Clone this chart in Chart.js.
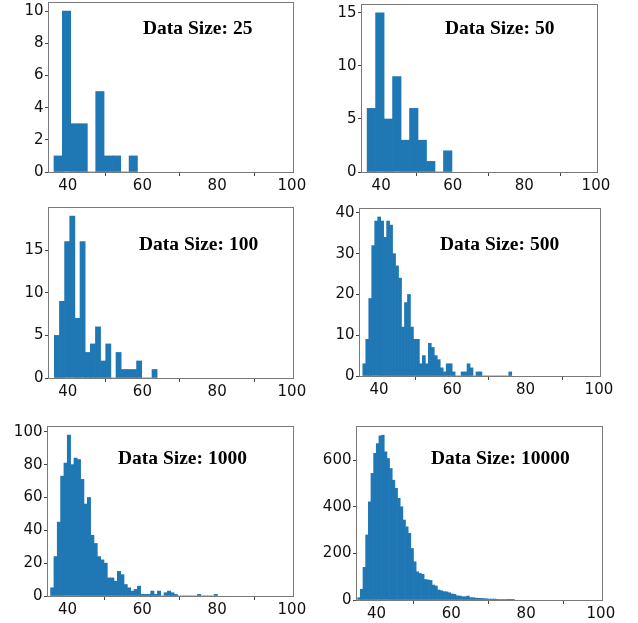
<!DOCTYPE html>
<html><head><meta charset="utf-8">
<script src="https://cdn.jsdelivr.net/npm/chart.js"></script>
<style>
html,body{margin:0;padding:0;background:#fff;width:638px;height:623px;overflow:hidden;position:relative}
canvas{position:absolute}
</style></head><body>
<script>
// ---------- DATA ----------
const titles = ["Data Size: 25", "Data Size: 50", "Data Size: 100", "Data Size: 500", "Data Size: 1000", "Data Size: 10000"];
const xTicks = [40, 60, 80, 100];

const binStart25 = 36.33, binWidth25 = 2.234;
const counts25 = [1, 10, 3, 3, 0, 5, 1, 1, 0, 1];
const yTicks25 = [0, 2, 4, 6, 8, 10];

const binStart50 = 36.08, binWidth50 = 2.37;
const counts50 = [6, 15, 5, 9, 3, 6, 3, 1, 0, 2];
const yTicks50 = [0, 5, 10, 15];

const binStart100 = 36.42, binWidth100 = 1.376;
const counts100 = [5, 9, 16, 19, 7, 16, 3, 4, 6, 2, 4, 0, 3, 1, 1, 1, 2, 0, 0, 1];
const yTicks100 = [0, 5, 10, 15];

const binStart500 = 35.56, binWidth500 = 0.813;
const counts500 = [3, 9, 19, 32, 38, 39, 38, 34, 38, 37, 30, 27, 24, 12, 18, 20, 12, 9, 9, 3,
                   5, 3, 8, 7, 5, 4, 2, 1, 3, 3, 1, 0, 0, 1, 1, 3, 2, 0, 1, 1,
                   0, 0, 0, 0, 0, 0, 0, 0, 0, 1];
const yTicks500 = [0, 10, 20, 30, 40];

const binStart1000 = 35.44, binWidth1000 = 0.893;
const counts1000 = [5, 24, 45, 73, 81, 98, 80, 84, 83, 71, 56, 60, 37, 32, 24, 22, 20, 11, 11, 9,
                    15, 13, 7, 5, 3, 4, 6, 1, 1, 1, 3, 1, 3, 0, 2, 3, 2, 1, 0, 0,
                    0, 0, 0, 0, 1, 0, 0, 0, 0, 1];
const yTicks1000 = [0, 20, 40, 60, 80, 100];

const binStart10000 = 34.93, binWidth10000 = 0.711;
const counts10000 = [10, 46, 140, 279, 421, 543, 629, 671, 704, 707, 636, 607, 564, 514, 479, 436, 400, 343, 314, 286,
                     221, 164, 121, 114, 110, 88, 86, 84, 64, 60, 43, 40, 36, 35, 31, 26, 24, 18, 17, 14,
                     14, 17, 10, 10, 8, 7, 7, 6, 5, 4, 4, 4, 3, 2, 2, 2, 1, 1, 1];
const yTicks10000 = [0, 200, 400, 600];

// ---------- LAYOUT (pixels of each plot area) ----------
const panels = [
  {title: titles[0], start: binStart25, width: binWidth25, counts: counts25, yTicks: yTicks25, yMax: 10.5,
   L: 49, R: 293, T: 3, B: 172, xMin: 35.0, tx: 143, ty: 34},
  {title: titles[1], start: binStart50, width: binWidth50, counts: counts50, yTicks: yTicks50, yMax: 15.75,
   L: 362, R: 597, T: 5, B: 172, xMin: 34.65, tx: 445, ty: 33.5},
  {title: titles[2], start: binStart100, width: binWidth100, counts: counts100, yTicks: yTicks100, yMax: 19.95,
   L: 49, R: 293, T: 208, B: 378, xMin: 35.0, tx: 139, ty: 250},
  {title: titles[3], start: binStart500, width: binWidth500, counts: counts500, yTicks: yTicks500, yMax: 40.95,
   L: 360, R: 600, T: 209, B: 376, xMin: 34.8, tx: 440, ty: 250},
  {title: titles[4], start: binStart1000, width: binWidth1000, counts: counts1000, yTicks: yTicks1000, yMax: 102.9,
   L: 48, R: 293, T: 427, B: 596, xMin: 34.75, tx: 118, ty: 464},
  {title: titles[5], start: binStart10000, width: binWidth10000, counts: counts10000, yTicks: yTicks10000, yMax: 742,
   L: 357, R: 602, T: 427, B: 600, xMin: 34.75, tx: 431, ty: 464}
];
const X_MAX = 100.3;
const Y_AXIS_W = 45, X_AXIS_H = 30, PAD_T = 12, PAD_R = 16;

const framePlugin = {
  id: 'frame',
  afterDraw(chart, args, o) {
    const {ctx, chartArea: a} = chart;
    ctx.save();
    ctx.strokeStyle = '#7a7a7a';
    ctx.lineWidth = 1;
    ctx.strokeRect(a.left - 0.5, a.top - 0.5, a.right - a.left + 1, a.bottom - a.top + 1);
    ctx.font = 'bold 19.5px "Liberation Serif"';
    ctx.fillStyle = '#000';
    ctx.textAlign = 'left';
    ctx.textBaseline = 'alphabetic';
    ctx.fillText(o.title, o.tx, o.ty);
    ctx.restore();
  }
};

panels.forEach(p => {
  const cv = document.createElement('canvas');
  const left = p.L - Y_AXIS_W, top = p.T - PAD_T;
  const w = p.R - p.L + Y_AXIS_W + PAD_R, h = p.B - p.T + PAD_T + X_AXIS_H;
  cv.width = w; cv.height = h;
  cv.style.left = left + 'px'; cv.style.top = top + 'px';
  cv.style.width = w + 'px'; cv.style.height = h + 'px';
  document.body.appendChild(cv);
  const data = p.counts.map((c, i) => ({x: p.start + (i + 0.5) * p.width, y: c}));
  new Chart(cv, {
    type: 'bar',
    data: {datasets: [{data, backgroundColor: '#1f77b4', borderWidth: 0,
      categoryPercentage: 1.0, barPercentage: 1.0}]},
    options: {
      responsive: false, animation: false, events: [],
      layout: {padding: {left: 0, top: PAD_T, right: PAD_R, bottom: 0}},
      plugins: {legend: {display: false}, tooltip: {enabled: false},
        frame: {title: p.title, tx: p.tx - left, ty: p.ty - top}},
      scales: {
        x: {type: 'linear', min: p.xMin, max: X_MAX, offset: false,
          afterBuildTicks: s => { s.ticks = xTicks.map(v => ({value: v})); },
          afterFit: s => { s.height = X_AXIS_H; },
          grid: {drawOnChartArea: false, drawTicks: true, tickLength: 4, color: '#444'},
          border: {display: false},
          ticks: {font: {family: 'DejaVu Sans', size: 15}, color: '#111', padding: 1, maxRotation: 0,
            autoSkip: false, callback: v => String(v)}},
        y: {type: 'linear', min: 0, max: p.yMax,
          afterBuildTicks: s => { s.ticks = p.yTicks.map(v => ({value: v})); },
          afterFit: s => { s.width = Y_AXIS_W; },
          grid: {drawOnChartArea: false, drawTicks: true, tickLength: 4, color: '#444'},
          border: {display: false},
          ticks: {font: {family: 'DejaVu Sans', size: 15}, color: '#111', padding: 1.5,
            autoSkip: false, callback: v => String(v)}}
      }
    },
    plugins: [framePlugin]
  });
});
</script>
</body></html>
